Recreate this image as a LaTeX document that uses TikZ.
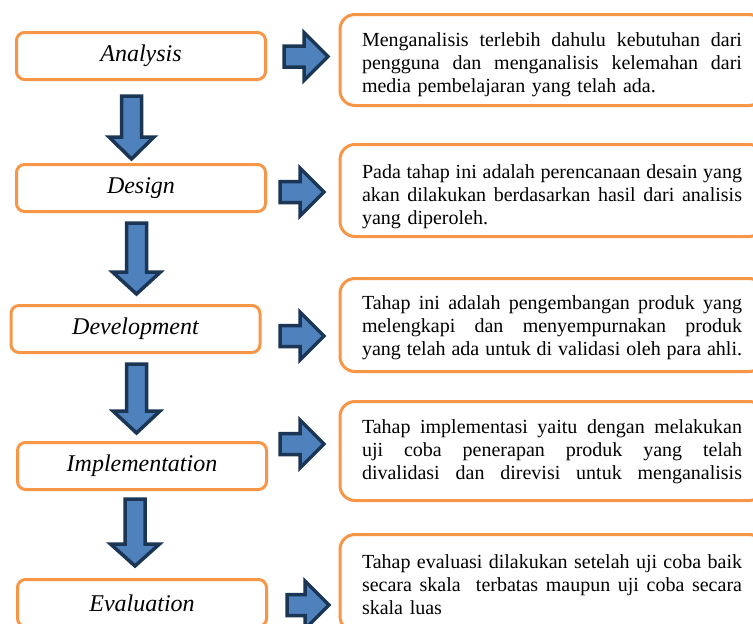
\documentclass[tikz,border=0pt]{standalone}
\usepackage{fontspec}
\setmainfont{Liberation Serif}
\usepackage{tikz}
\usetikzlibrary{positioning}
\definecolor{boxorange}{HTML}{F79646}
\definecolor{arrowblue}{HTML}{4F81BD}
\definecolor{arrowline}{HTML}{1B3554}
\newcommand\JLine[1]{\noindent\hbox to 380pt{\spaceskip=5pt plus 1fil minus 2.5pt\relax #1}}
\newcommand\Drop[1]{\rule{0pt}{#1pt}}
\tikzset{
  stagebox/.style={draw=boxorange, line width=3pt, rounded corners=8pt, minimum width=249pt,
    minimum height=47pt, inner sep=0pt, font=\fontsize{24}{28}\selectfont\itshape},
  descbox/.style={draw=boxorange, line width=3pt, rounded corners=15pt, anchor=west,
    text width=380pt, inner xsep=22pt, inner ysep=0pt, align=left, font=\fontsize{20}{23}\selectfont},
  blockarrow/.style={draw=arrowline, fill=arrowblue, line width=3.5pt, line join=miter}
}

\begin{document}
\begin{tikzpicture}[x=1pt, y=-1pt]
    \clip (0,0) rectangle (753,624);
    \fill[white] (0,0) rectangle (753,624);
    \foreach \Point/\StageName/\StageLabel in {
      (141,56)/analysis/Analysis,
      (141,188)/design/Design,
      (135.5,329)/development/Development,
      (142,466)/implementation/Implementation,
      (142,603)/evaluation/Evaluation
    }
    \node[stagebox] (\StageName) at \Point {\StageLabel};

    \foreach \X/\Top/\Tip/\Head in {131.5/96/159/22.5, 136.5/223/294/24, 136.5/364/433/23.5, 135/499/566/24.5}
    \draw[blockarrow] (\X-10,\Top) -- (\X+10,\Top) -- (\X+10,\Tip-22) -- (\X+\Head,\Tip-22)
      -- (\X,\Tip) -- (\X-\Head,\Tip-22) -- (\X-10,\Tip-22) -- cycle;

    \foreach \Y/\Tail/\Tip in {56.5/284/328, 192/280/324, 336/280/324, 444/280/324, 605/287/329}
    \draw[blockarrow] (\Tail,\Y-10.5) -- (\Tip-24,\Y-10.5) -- (\Tip-24,\Y-24) -- (\Tip,\Y)
      -- (\Tip-24,\Y+24) -- (\Tip-24,\Y+10.5) -- (\Tail,\Y+10.5) -- cycle;

    \node[descbox, minimum height=91pt] (analysisnote) at (338.5,60) {%
      \JLine{\Drop{24}Menganalisis terlebih dahulu kebutuhan dari}\\
      \JLine{pengguna dan menganalisis kelemahan dari}\\
      media pembelajaran yang telah ada.};
    \node[descbox, minimum height=92pt] (designnote) at (338.5,190.5) {%
      \JLine{\Drop{26}Pada tahap ini adalah perencanaan desain yang}\\
      \JLine{akan dilakukan berdasarkan hasil dari analisis}\\
      yang diperoleh.};
    \node[descbox, minimum height=93pt] (developmentnote) at (338.5,325) {%
      \JLine{\Drop{20}Tahap ini adalah pengembangan produk yang}\\
      \JLine{melengkapi dan menyempurnakan produk}\\
      \JLine{yang telah ada untuk di validasi oleh para ahli.}};
    \node[descbox, minimum height=99pt] (implementationnote) at (338.5,451) {%
      \JLine{\Drop{16}Tahap implementasi yaitu dengan melakukan}\\
      \JLine{uji coba penerapan produk yang telah}\\
      \JLine{divalidasi dan direvisi untuk menganalisis}};
    \node[descbox, minimum height=97pt] (evaluationnote) at (338.5,583) {%
      \JLine{\Drop{18}Tahap evaluasi dilakukan setelah uji coba baik}\\
      \JLine{secara skala \ terbatas maupun uji coba secara}\\
      skala luas};
\end{tikzpicture}
\end{document}
